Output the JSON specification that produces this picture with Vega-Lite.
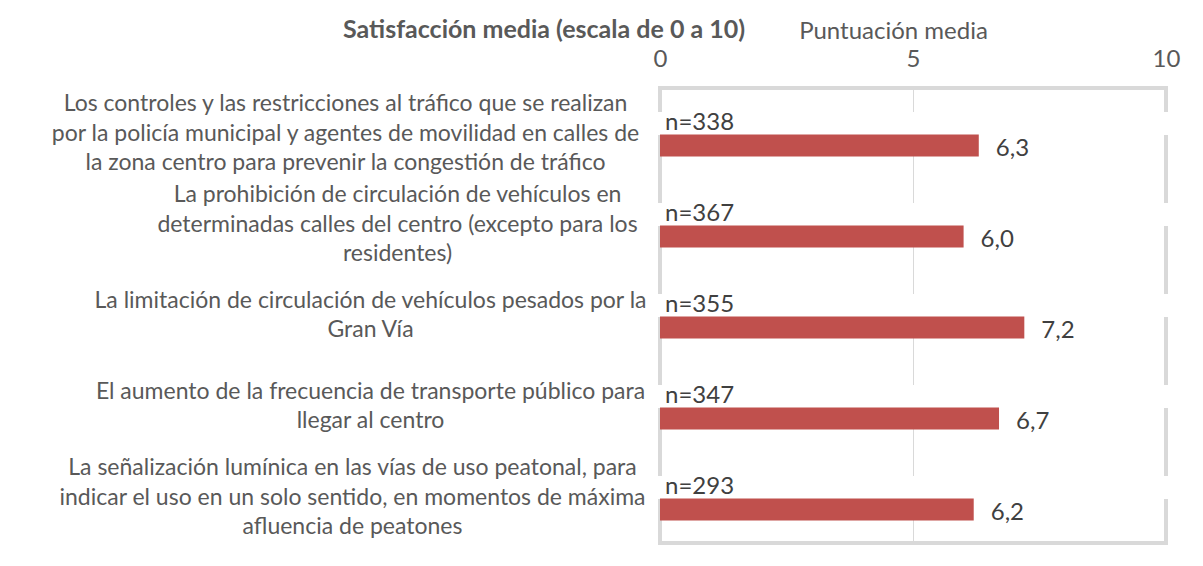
{
  "$schema": "https://vega.github.io/schema/vega-lite/v6.json",
  "width": 506,
  "height": 455,
  "autosize": {"type": "none"},
  "padding": {"left": 660, "top": 88, "right": 37, "bottom": 23},
  "background": "white",
  "title": {
    "text": "Satisfacción media (escala de 0 a 10)",
    "anchor": "start",
    "frame": "group",
    "dx": -317,
    "offset": -24,
    "fontSize": 25,
    "fontWeight": "bold",
    "color": "#595959",
    "font": "Lato"
  },
  "config": {
    "locale": {"number": {"decimal": ",", "thousands": ".", "grouping": [3], "currency": ["", " €"]}},
    "view": {"stroke": "#d9d9d9", "strokeWidth": 4},
    "font": "Lato"
  },
  "data": {
    "values": [
      {"item": "Los controles y las restricciones al tráfico que se realizan|por la policía municipal y agentes de movilidad en calles de|la zona centro para prevenir la congestión de tráfico", "valor": 6.3, "muestra": "n=338"},
      {"item": "La prohibición de circulación de vehículos en|determinadas calles del centro (excepto para los|residentes)", "valor": 6.0, "muestra": "n=367"},
      {"item": "La limitación de circulación de vehículos pesados por la|Gran Vía", "valor": 7.2, "muestra": "n=355"},
      {"item": "El aumento de la frecuencia de transporte público para|llegar al centro", "valor": 6.7, "muestra": "n=347"},
      {"item": "La señalización lumínica en las vías de uso peatonal, para|indicar el uso en un solo sentido, en momentos de máxima|afluencia de peatones", "valor": 6.2, "muestra": "n=293"}
    ]
  },
  "encoding": {
    "y": {
      "field": "item",
      "type": "nominal",
      "sort": null,
      "scale": {"paddingInner": 0, "paddingOuter": 0},
      "axis": {
        "title": null,
        "ticks": false,
        "domain": false,
        "grid": false,
        "labelAlign": "center",
        "labelBaseline": "middle",
        "labelFontSize": 23,
        "labelFont": "Lato",
        "labelColor": "#595959",
        "labelLineHeight": 29.5,
        "labelLimit": 0,
        "labelExpr": "split(datum.label, '|')",
        "labelPadding": {
          "condition": [
            {"test": "indexof(datum.value, 'Los controles') == 0", "value": 315},
            {"test": "indexof(datum.value, 'La prohibici') == 0", "value": 263},
            {"test": "indexof(datum.value, 'La limitaci') == 0", "value": 290},
            {"test": "indexof(datum.value, 'El aumento') == 0", "value": 290}
          ],
          "value": 308
        },
        "labelOffset": {
          "condition": {"test": "indexof(datum.value, 'La limitaci') == 0 || indexof(datum.value, 'El aumento') == 0", "value": -14.75},
          "value": -29.5
        }
      }
    }
  },
  "layer": [
    {
      "mark": {"type": "bar", "color": "white", "height": 23, "yOffset": -10, "xOffset": -4, "x2Offset": 4},
      "encoding": {
        "x": {"datum": 0, "type": "quantitative"},
        "x2": {"datum": 10}
      }
    },
    {
      "mark": {"type": "bar", "color": "#C0504D", "height": 22, "yOffset": 12},
      "encoding": {
        "x": {
          "field": "valor",
          "type": "quantitative",
          "scale": {"domain": [0, 10], "nice": false, "zero": true},
          "axis": {
            "orient": "top",
            "values": [0, 5, 10],
            "grid": true,
            "gridColor": "#d9d9d9",
            "gridWidth": 1,
            "ticks": false,
            "domain": false,
            "labelFlush": false,
            "labelPadding": 17,
            "labelFontSize": 24,
            "labelFont": "Lato",
            "labelColor": "#595959",
            "title": "Puntuación media",
            "titleFont": "Lato",
            "titleFontSize": 24,
            "titleFontWeight": "normal",
            "titleColor": "#595959",
            "titlePadding": 4,
            "titleX": 233
          }
        }
      }
    },
    {
      "mark": {"type": "text", "align": "left", "baseline": "alphabetic", "dx": 5, "dy": -4, "fontSize": 24, "font": "Lato", "color": "#404040"},
      "encoding": {
        "x": {"datum": 0, "type": "quantitative"},
        "text": {"field": "muestra"}
      }
    },
    {
      "mark": {"type": "text", "align": "left", "baseline": "middle", "dx": 17, "dy": 15, "fontSize": 24, "font": "Lato", "color": "#404040"},
      "encoding": {
        "x": {"field": "valor", "type": "quantitative"},
        "text": {"field": "valor", "type": "quantitative", "format": ".1f"}
      }
    }
  ]
}
